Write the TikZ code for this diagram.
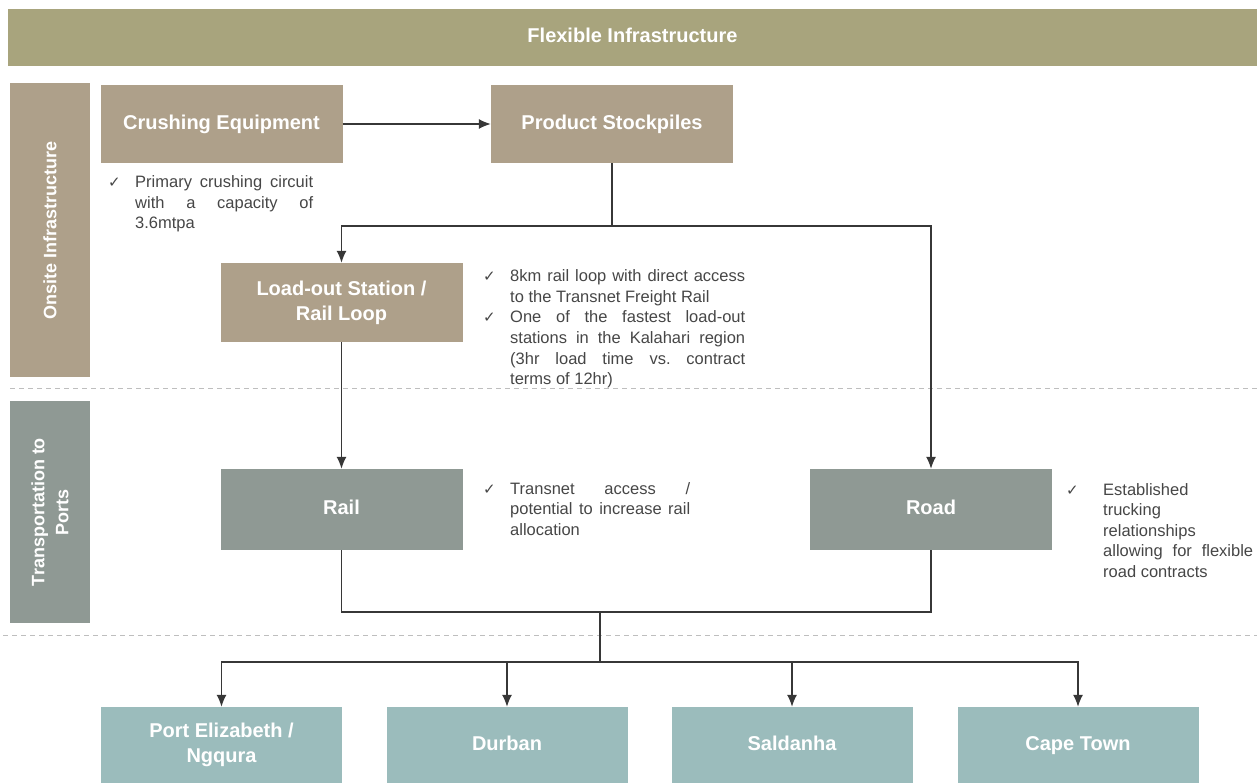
\documentclass[tikz,border=0pt]{standalone}
\usepackage{fontspec}
\setmainfont{Liberation Sans}
\newfontfamily\chkfont{DejaVu Sans}
\usepackage{tikz}
\usetikzlibrary{arrows.meta}
\definecolor{barcol}{RGB}{168,164,125}
\definecolor{tancol}{RGB}{174,160,138}
\definecolor{greycol}{RGB}{143,153,148}
\definecolor{tealcol}{RGB}{155,188,188}
\definecolor{linecol}{RGB}{55,55,55}
\definecolor{txtcol}{RGB}{70,70,70}
\definecolor{dashcol}{RGB}{190,190,190}
\newcommand{\tickpar}[2][27pt]{\hangindent=#1\hangafter=1\noindent\makebox[#1][l]{\chkfont\fontsize{15}{15}\selectfont ✓}#2\par}
\newcommand{\bultext}[2]{\parbox[t]{#1}{\hyphenpenalty=10000\fontsize{16.5}{20.5}\selectfont #2}}

\begin{document}
\begin{tikzpicture}[x=1pt,y=-1pt]
  \tikzstyle{every node}=[font=\fontsize{20}{25}\selectfont\bfseries, text=white, align=center, inner sep=0pt]
  \tikzstyle{oneline}=[text height=14.5pt, text depth=4.2pt]
  \tikzstyle{tanbox}=[fill=tancol, minimum width=242, minimum height=78]
  \tikzstyle{greybox}=[fill=greycol, minimum width=242, minimum height=81, oneline]
  \tikzstyle{tealbox}=[fill=tealcol, minimum width=241, minimum height=76]
  \tikzstyle{sidebox}=[minimum height=80, rotate=90, font=\fontsize{18}{24}\selectfont\bfseries]
  \tikzstyle{bullet}=[anchor=base west, text=txtcol, font=\mdseries, align=left]
  \tikzstyle{conn}=[draw=linecol, line width=1.3pt]
  \tikzstyle{arr}=[conn, -{Latex[length=12pt,width=10pt]}]
  \useasboundingbox (0,0) rectangle (1257,783);
  \node[fill=barcol, minimum width=1249, minimum height=57, oneline] (top) at (632.5,37.5) {Flexible Infrastructure};
  \node[sidebox, fill=tancol, minimum width=294] (onsite) at (50,230) {Onsite Infrastructure};
  \node[sidebox, fill=greycol, minimum width=222] (transport) at (50,512) {Transportation to\\Ports};
  \draw[dashcol, line width=1pt, dash pattern=on 5pt off 4pt] (10,388) -- (1257,388);
  \draw[dashcol, line width=1pt, dash pattern=on 5pt off 4pt] (3,635) -- (1257,635);
  \node[tanbox, oneline] (crush) at (221.5,124) {Crushing Equipment};
  \node[tanbox, oneline] (stock) at (612,124) {Product Stockpiles};
  \node[tanbox, minimum height=79] (load) at (341.5,302.5) {Load-out Station /\\Rail Loop};
  \node[greybox] (rail) at (341.5,509.5) {Rail};
  \node[greybox] (road) at (931,509.5) {Road};
  \node[tealbox] (pe) at (221.5,745) {Port Elizabeth /\\Ngqura};
  \node[tealbox, oneline] (durban) at (507,745) {Durban};
  \node[tealbox, oneline] (saldanha) at (792,745) {Saldanha};
  \node[tealbox, oneline] (capetown) at (1078,745) {Cape Town};
  \node[bullet] (crushnote) at (108,188) {\bultext{205pt}{\tickpar{Primary crushing circuit\linebreak with a capacity of\linebreak 3.6mtpa}}};
  \node[bullet] (loadnote) at (483,282) {\bultext{262pt}{\tickpar{8km rail loop with direct access\linebreak to the Transnet Freight Rail}\tickpar{One of the fastest load-out\linebreak stations in the Kalahari region\linebreak (3hr load time vs.\ contract\linebreak terms of 12hr)}}};
  \node[bullet] (railnote) at (483,494) {\bultext{207pt}{\tickpar{Transnet access /\linebreak potential to increase rail\linebreak allocation}}};
  \node[bullet] (roadnote) at (1066,495) {\bultext{187pt}{\tickpar[37pt]{Established\newline trucking\newline relationships\newline allowing for flexible\linebreak road contracts}}};
  \coordinate (split) at (612,226);
  \coordinate (join) at (600,612);
  \coordinate (hub) at (600,662);
  \draw[arr] (crush) -- (stock);
  \draw[conn] (stock) -- (split);
  \draw[arr] (split) -| (load.north);
  \draw[arr] (split) -| (road.north);
  \draw[arr] (load) -- (rail);
  \draw[conn] (rail.south) |- (join) -| (road.south);
  \draw[conn] (join) -- (hub);
  \draw[arr] (hub) -| (pe.north);
  \draw[arr] (hub) -| (durban.north);
  \draw[arr] (hub) -| (saldanha.north);
  \draw[arr] (hub) -| (capetown.north);
\end{tikzpicture}
\end{document}
